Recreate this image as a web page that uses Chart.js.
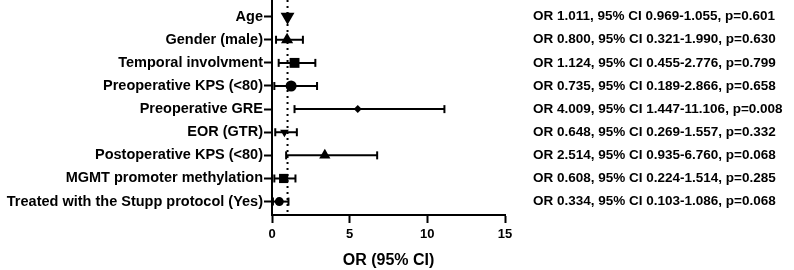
<!DOCTYPE html>
<html>
<head>
<meta charset="utf-8">
<script src="https://cdn.jsdelivr.net/npm/chart.js@4.4.0/dist/chart.umd.min.js"></script>
<style>
  html, body { margin: 0; padding: 0; background: #fff; }
  #contenedor { width: 794px; height: 270px; }
</style>
</head>
<body>
<div id="contenedor"><canvas id="grafico" width="794" height="270"></canvas></div>
<script>
// Variables del modelo (de arriba hacia abajo)
const variables = [
    'Age',
    'Gender (male)',
    'Temporal involvment',
    'Preoperative KPS (<80)',
    'Preoperative GRE',
    'EOR (GTR)',
    'Postoperative KPS (<80)',
    'MGMT promoter methylation',
    'Treated with the Stupp protocol (Yes)'
];

// Valores (punto e intervalo)
const orPunto = [1.0, 0.97, 1.45, 1.23, 5.52, 0.8, 3.4, 0.75, 0.47];
const icInferior = [0.97, 0.26, 0.43, 0.15, 1.45, 0.21, 0.91, 0.15, 0.06];
const icSuperior = [1.05, 1.99, 2.79, 2.9, 11.1, 1.6, 6.77, 1.51, 1.06];

// Texto de la derecha
const textos = [
    'OR 1.011, 95% CI 0.969-1.055, p=0.601',
    'OR 0.800, 95% CI 0.321-1.990, p=0.630',
    'OR 1.124, 95% CI 0.455-2.776, p=0.799',
    'OR 0.735, 95% CI 0.189-2.866, p=0.658',
    'OR 4.009, 95% CI 1.447-11.106, p=0.008',
    'OR 0.648, 95% CI 0.269-1.557, p=0.332',
    'OR 2.514, 95% CI 0.935-6.760, p=0.068',
    'OR 0.608, 95% CI 0.224-1.514, p=0.285',
    'OR 0.334, 95% CI 0.103-1.086, p=0.068'
];

// Marcadores de cada fila
const marcadores = ['triangle', 'triangle', 'rect', 'circle', 'rectRot', 'triangle', 'triangle', 'rect', 'circle'];
const rotaciones = [180, 0, 0, 0, 0, 180, 0, 0, 0];
const tamanos = [8, 7, 7, 5.5, 4, 5, 6.5, 6.5, 4.5];

const ticksX = [0, 5, 10, 15];
const lineaReferencia = 1;

const fuente = '"Liberation Sans", Arial, sans-serif';
const yMin = -0.72, yMax = 8.58;

// Barras de error (una línea por variable con topes verticales)
const datasets = [];
variables.forEach((v, i) => {
    datasets.push({
        data: [{ x: icInferior[i], y: i }, { x: icSuperior[i], y: i }],
        showLine: true,
        borderColor: '#000',
        borderWidth: 2,
        pointStyle: 'line',
        pointRotation: 90,
        pointRadius: 4,
        pointBorderWidth: 2,
        pointBorderColor: '#000'
    });
});

// Línea punteada en OR = 1
datasets.push({
    data: [{ x: lineaReferencia, y: yMin }, { x: lineaReferencia, y: yMax }],
    showLine: true,
    borderColor: '#000',
    borderWidth: 2,
    borderDash: [2, 4],
    pointRadius: 0
});

// Puntos estimados
datasets.push({
    data: orPunto.map((x, i) => ({ x: x, y: i })),
    showLine: false,
    pointStyle: marcadores,
    pointRotation: rotaciones,
    pointRadius: tamanos,
    backgroundColor: '#000',
    borderColor: '#000',
    borderWidth: 0
});

// Plugin para el texto de la derecha
const textoDerecha = {
    id: 'textoDerecha',
    afterDraw(chart) {
        const ctx = chart.ctx;
        const y = chart.scales.y;
        ctx.save();
        ctx.font = 'bold 13.5px ' + fuente;
        ctx.fillStyle = '#000';
        ctx.textAlign = 'left';
        ctx.textBaseline = 'middle';
        textos.forEach((t, i) => {
            ctx.fillText(t, 533, y.getPixelForValue(i));
        });
        ctx.restore();
    }
};

new Chart(document.getElementById('grafico').getContext('2d'), {
    type: 'scatter',
    data: { datasets: datasets },
    options: {
        responsive: false,
        animation: false,
        layout: { autoPadding: false, padding: { left: 0, top: 0, right: 289, bottom: 0 } },
        plugins: { legend: { display: false }, tooltip: { enabled: false } },
        scales: {
            x: {
                type: 'linear',
                min: 0,
                max: 15,
                afterBuildTicks: scale => { scale.ticks = ticksX.map(v => ({ value: v })); },
                afterFit: scale => { scale.height = 55; scale.paddingLeft = 0; scale.paddingRight = 0; },
                ticks: { color: '#000', padding: 4, font: { family: fuente, size: 13, weight: 'bold' } },
                grid: { drawOnChartArea: false, drawTicks: true, tickLength: 8, tickColor: '#000', tickWidth: 2 },
                border: { color: '#000', width: 2 },
                title: {
                    display: true,
                    text: 'OR (95% CI)',
                    color: '#000',
                    padding: { top: 4, bottom: 0 },
                    font: { family: fuente, size: 16, weight: 'bold' }
                }
            },
            y: {
                type: 'linear',
                reverse: true,
                min: yMin,
                max: yMax,
                afterBuildTicks: scale => { scale.ticks = variables.map((v, i) => ({ value: i })); },
                afterFit: scale => { scale.width = 272; scale.paddingTop = 0; scale.paddingBottom = 0; },
                ticks: {
                    color: '#000',
                    padding: 1,
                    autoSkip: false,
                    font: { family: fuente, size: 14.5, weight: 'bold' },
                    callback: v => variables[v]
                },
                grid: { drawOnChartArea: false, drawTicks: true, tickLength: 8, tickColor: '#000', tickWidth: 2 },
                border: { color: '#000', width: 2 }
            }
        }
    },
    plugins: [textoDerecha]
});
</script>
</body>
</html>
